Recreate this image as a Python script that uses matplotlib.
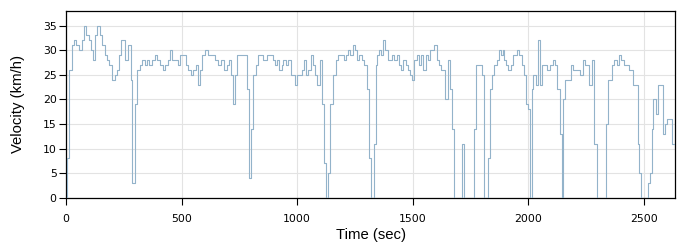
import matplotlib
matplotlib.use('Agg')
import matplotlib.pyplot as plt

# time (sec) where each step starts, and velocity (km/h) held until the next one
time_sec = [0, 5, 12, 24, 35, 45, 56, 68, 77, 87, 99, 108, 116, 127, 135, 149, 157, 167, 177, 188,
            200, 210, 220, 229, 239, 257, 268, 279, 287, 298, 308, 318, 330, 340, 352, 361, 373, 383, 393, 405,
            419, 428, 440, 450, 460, 483, 493, 519, 529, 540, 551, 561, 569, 580, 590, 601, 613, 644, 659, 670,
            685, 695, 705, 714, 724, 731, 738, 781, 790, 800, 810, 820, 832, 853, 868, 882, 897, 904, 914, 923,
            933, 940, 952, 962, 972, 991, 1001, 1019, 1029, 1038, 1048, 1058, 1067, 1077, 1087, 1099, 1106, 1116, 1125, 1135,
            1142, 1154, 1168, 1178, 1203, 1211, 1221, 1229, 1240, 1250, 1260, 1269, 1279, 1289, 1301, 1309, 1318, 1334, 1339, 1344,
            1354, 1362, 1373, 1380, 1391, 1411, 1420, 1430, 1440, 1449, 1459, 1469, 1478, 1488, 1498, 1507, 1517, 1527, 1535, 1546,
            1556, 1564, 1574, 1593, 1603, 1613, 1622, 1639, 1651, 1659, 1668, 1677, 1714, 1723, 1766, 1775, 1798, 1806, 1827, 1834,
            1841, 1851, 1863, 1873, 1880, 1889, 1895, 1903, 1913, 1923, 1932, 1952, 1961, 1971, 1981, 1990, 2000, 2007, 2014, 2021,
            2033, 2043, 2050, 2057, 2079, 2094, 2105, 2115, 2125, 2137, 2144, 2151, 2158, 2183, 2192, 2223, 2235, 2245, 2262, 2277,
            2285, 2295, 2334, 2346, 2360, 2372, 2382, 2392, 2401, 2415, 2435, 2454, 2473, 2478, 2487, 2519, 2526, 2533, 2540, 2551,
            2559, 2584, 2591, 2598, 2623]
velocity = [0, 8, 26, 31, 32, 31, 30, 32, 35, 33, 32, 30, 28, 33, 35, 33, 31, 29, 28, 27,
            24, 25, 26, 29, 32, 28, 31, 24, 3, 19, 26, 27, 28, 27, 28, 27, 28, 29, 28, 27,
            26, 27, 28, 30, 28, 27, 29, 27, 26, 25, 26, 27, 23, 26, 29, 30, 29, 28, 27, 28,
            26, 27, 28, 25, 19, 25, 29, 22, 4, 14, 25, 27, 29, 28, 29, 29, 28, 27, 28, 26,
            27, 28, 27, 28, 25, 23, 25, 26, 28, 25, 26, 29, 27, 25, 23, 28, 19, 7, 0, 5,
            19, 25, 28, 29, 28, 29, 30, 29, 31, 30, 28, 29, 28, 27, 22, 8, 0, 11, 27, 29,
            30, 29, 32, 30, 28, 29, 28, 29, 27, 26, 28, 27, 26, 25, 24, 28, 29, 27, 29, 26,
            29, 28, 30, 31, 28, 27, 26, 20, 28, 22, 14, 0, 11, 0, 14, 27, 25, 0, 8, 22,
            25, 27, 28, 30, 29, 30, 28, 27, 26, 27, 29, 30, 29, 27, 25, 19, 18, 0, 22, 25,
            23, 32, 23, 27, 26, 27, 28, 27, 22, 13, 0, 20, 24, 27, 26, 25, 28, 27, 23, 28,
            11, 0, 15, 24, 27, 28, 27, 29, 28, 27, 26, 23, 11, 5, 0, 3, 5, 14, 20, 17,
            23, 13, 15, 16, 11]
t_end = 2634

x_ticks = [0, 500, 1000, 1500, 2000, 2500]
y_ticks = [0, 5, 10, 15, 20, 25, 30, 35]

plt.rcParams['font.family'] = ['DejaVu Sans']

fig = plt.figure(figsize=(7, 2.5), dpi=100)
ax = fig.add_axes([0.0943, 0.209, 0.870, 0.748])

ax.plot(time_sec + [t_end], velocity + [velocity[-1]], drawstyle='steps-post',
        color='#93b3ca', lw=0.8, zorder=3)

ax.set_xlim(0, t_end)
ax.set_ylim(0, 38)
ax.set_xticks(x_ticks)
ax.set_yticks(y_ticks)
ax.grid(True, color='#e3e3e3', lw=0.8, zorder=0)
ax.set_axisbelow(True)
ax.tick_params(direction='out', length=4.7, width=0.8, labelsize=7.8, colors='black')
ax.tick_params(axis='x', pad=7)
ax.tick_params(axis='y', pad=2)
for s in ax.spines.values():
    s.set_color('black')
    s.set_linewidth(0.9)

ax.set_xlabel('Time (sec)', fontsize=10.7, family='Liberation Sans', labelpad=3)
ax.set_ylabel('Velocity (km/h)', fontsize=10.7, family='Liberation Sans', labelpad=13)

fig.savefig('out.png', dpi=100)
